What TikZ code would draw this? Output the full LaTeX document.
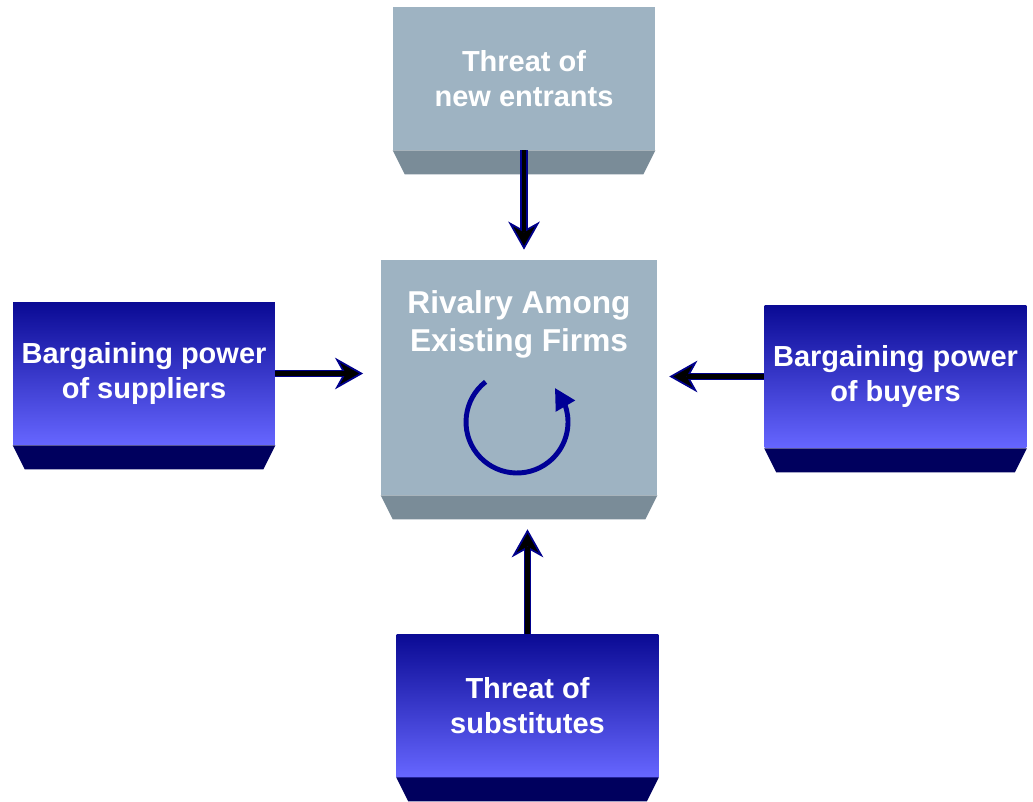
\documentclass[tikz,border=0pt]{standalone}
\usepackage{fontspec}
\setmainfont{Liberation Sans}
\usetikzlibrary{arrows.meta,bending,calc}

\definecolor{bluetop}{RGB}{10,10,148}
\definecolor{bluebottom}{RGB}{102,102,255}
\definecolor{bevelblue}{RGB}{0,0,94}
\definecolor{facegray}{RGB}{158,179,194}
\definecolor{bevelgray}{RGB}{122,140,152}
\definecolor{arrownavy}{RGB}{0,0,140}
\definecolor{spinnavy}{RGB}{0,0,150}

\tikzset{
  face/.style={inner sep=0pt, align=center, text=white,
    font=\bfseries\fontsize{16.5}{20}\selectfont},
  blueface/.style={face, top color=bluetop, bottom color=bluebottom,
    minimum width=5.24cm, minimum height=2.86cm},
  grayface/.style={face, fill=facegray},
  bluebevel/.style={fill=bevelblue},
  graybevel/.style={fill=bevelgray},
  force/.style={draw=arrownavy, line width=4.2pt,
    -{Stealth[length=16pt, width=18pt, inset=5pt, line width=1pt, fill=black]}},
  forcecore/.style={draw=black, line width=2.8pt},
  spin/.style={draw=spinnavy, line width=2.8pt,
    -{Triangle[length=12pt, width=12pt, flex]}}
}

\begin{document}
\begin{tikzpicture}[x=0.02cm, y=-0.02cm]
  \useasboundingbox (0,0) rectangle (1033,801);
  %% Draw the boxes
  \node[grayface, minimum width=5.24cm, minimum height=2.86cm] (entrants) at (524,78.5) {Threat of\\new entrants};
  \node[grayface, minimum width=5.52cm, minimum height=4.7cm] (rivalry) at (519,377.5) {};
  \node[blueface] (suppliers) at (144,373.5) {Bargaining power\\of suppliers};
  \node[blueface] (buyers) at (895.5,376.5) {Bargaining power\\of buyers};
  \node[blueface] (substitutes) at (527.5,705.5) {Threat of\\substitutes};
  \node[face, font=\bfseries\fontsize{18}{21.5}\selectfont] (rivalrytext) at (519,324) {Rivalry Among\\Existing Firms};
  %% Draw the bevels
  \fill[graybevel] (entrants.south west) -- (entrants.south east) -- ++(-12,24) -- ($(entrants.south west)+(12,24)$) -- cycle;
  \fill[graybevel] (rivalry.south west) -- (rivalry.south east) -- ++(-12,24) -- ($(rivalry.south west)+(12,24)$) -- cycle;
  \fill[bluebevel] (suppliers.south west) -- (suppliers.south east) -- ++(-12,24) -- ($(suppliers.south west)+(12,24)$) -- cycle;
  \fill[bluebevel] (buyers.south west) -- (buyers.south east) -- ++(-12,24) -- ($(buyers.south west)+(12,24)$) -- cycle;
  \fill[bluebevel] (substitutes.south west) -- (substitutes.south east) -- ++(-12,24) -- ($(substitutes.south west)+(12,24)$) -- cycle;
  %% Draw the rotation sign
  \coordinate (turn) at (517,422);
  \draw[spin] (turn) ++(128:1.02cm) arc[start angle=128, end angle=402, radius=1.02cm];
  %% Draw the forces
  \draw[force, shorten >=5.7pt] (entrants.south) -- (entrants.south |- rivalry.north);
  \draw[force, shorten >=10pt] (suppliers.east) -- (suppliers.east -| rivalry.west);
  \draw[force, shorten >=6.8pt] (buyers.west) -- (buyers.west -| rivalry.east);
  \draw[force, shorten >=19.3pt] (substitutes.north) -- (substitutes.north |- rivalry.south);
  \draw[forcecore, shorten >=15.7pt] (entrants.south) -- (entrants.south |- rivalry.north);
  \draw[forcecore, shorten >=20pt] (suppliers.east) -- (suppliers.east -| rivalry.west);
  \draw[forcecore, shorten >=16.8pt] (buyers.west) -- (buyers.west -| rivalry.east);
  \draw[forcecore, shorten >=29.3pt] (substitutes.north) -- (substitutes.north |- rivalry.south);
\end{tikzpicture}
\end{document}
